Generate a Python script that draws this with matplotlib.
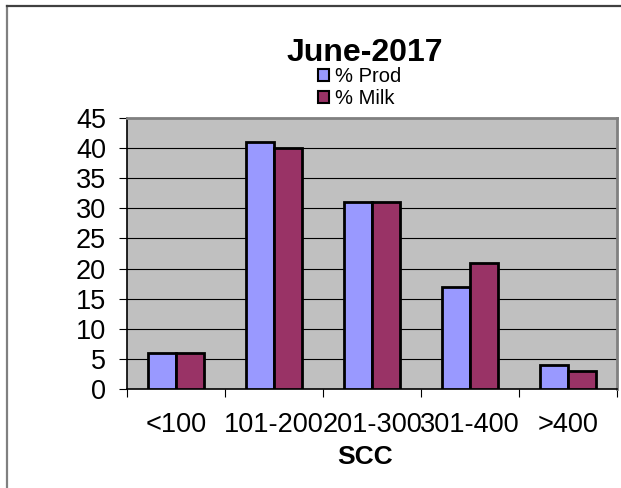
import matplotlib
matplotlib.use("Agg")
import matplotlib.pyplot as plt
from matplotlib.lines import Line2D
from matplotlib.patches import Patch
import numpy as np

plt.rcParams['font.family'] = ['Liberation Sans', 'DejaVu Sans']

categories = ["<100", "101-200", "201-300", "301-400", ">400"]
prod = [6, 41, 31, 17, 4]
milk = [6, 40, 31, 21, 3]
yticks = [0, 5, 10, 15, 20, 25, 30, 35, 40, 45]
title = "June-2017"
xlabel = "SCC"
series_names = ["% Prod", "% Milk"]
colors = ["#9999FF", "#993366"]

W, H = 621, 488
fig = plt.figure(figsize=(W / 100, H / 100), dpi=100)
fig.patch.set_facecolor("white")

# outer frame (left and top edges visible)
fig.add_artist(Line2D([7 / W, 7 / W], [0, 1 - 6 / H], transform=fig.transFigure,
                      color="#808080", lw=1.6))
fig.add_artist(Line2D([7 / W, 1], [1 - 6 / H, 1 - 6 / H], transform=fig.transFigure,
                      color="#404040", lw=1.6))

left, right, top, bottom = 127, 617, 118, 389
ax = fig.add_axes([left / W, 1 - bottom / H, (right - left) / W, (bottom - top) / H])
ax.set_facecolor("#C0C0C0")

x = np.arange(len(categories))
bw = 0.29
ax.bar(x - bw / 2, prod, bw, color=colors[0], edgecolor="black", linewidth=2.0, zorder=3)
ax.bar(x + bw / 2, milk, bw, color=colors[1], edgecolor="black", linewidth=2.0, zorder=3)

ax.set_xlim(-0.5, len(categories) - 0.5)
ax.set_ylim(0, 45)
ax.set_yticks(yticks)
ax.set_yticklabels([str(v) for v in yticks], fontsize=19.5)
for v in yticks[1:-1]:
    ax.axhline(v, color="black", lw=0.8, zorder=1)

ax.set_xticks(x)
ax.set_xticklabels(categories, fontsize=19.5)
ax.set_xticks(np.arange(-0.5, len(categories) + 0.5, 1.0), minor=True)
ax.tick_params(axis="x", which="major", length=0, pad=16.5)
ax.tick_params(axis="x", which="minor", length=5.5, width=0.8, color="black")
ax.tick_params(axis="y", which="major", length=6, width=0.8, pad=9, color="black")

for s in ["left", "bottom"]:
    ax.spines[s].set_color("black")
    ax.spines[s].set_linewidth(1.2)
for s in ["top", "right"]:
    ax.spines[s].set_color("#808080")
    ax.spines[s].set_linewidth(2)

fig.text(365 / W, 1 - 61 / H, title, ha="center", va="baseline",
         fontsize=23, fontweight="bold")
fig.text(365 / W, 1 - 464 / H, xlabel, ha="center", va="baseline",
         fontsize=19, fontweight="bold")

handles = [Patch(facecolor=c, edgecolor="black", linewidth=1.5) for c in colors]
leg = fig.legend(handles, series_names, loc="upper left",
                 bbox_to_anchor=(318 / W, 1 - 67 / H), frameon=False,
                 fontsize=14.5, handlelength=0.55, handleheight=0.55,
                 handletextpad=0.3, labelspacing=0.15, borderpad=0,
                 borderaxespad=0)

fig.savefig("out.png", dpi=100)
